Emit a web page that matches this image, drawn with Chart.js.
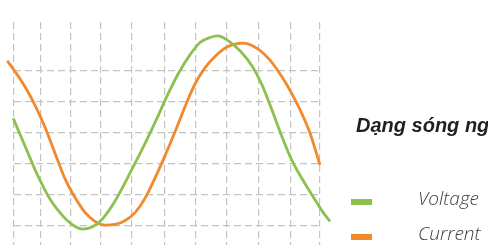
<!DOCTYPE html>
<html>
<head>
<meta charset="utf-8">
<script src="https://cdn.jsdelivr.net/npm/chart.js@4/dist/chart.umd.min.js"></script>
<style>
  html, body { margin: 0; padding: 0; background: #fff; overflow: hidden; }
  #wrap { position: relative; width: 488px; height: 245px; overflow: hidden; }
  #c { position: absolute; left: 0; top: 0; }
  .title { position: absolute; left: 356px; top: 115px; font: italic bold 20px "Liberation Sans", Arial, sans-serif; line-height: 20px; color: #231f20; white-space: nowrap; }
  .sw { position: absolute; left: 351px; width: 21px; height: 6px; }
  .lt { position: absolute; left: 418px; font: italic 300 19px "Open Sans", "Liberation Sans", sans-serif; line-height: 19px; color: #3a3a3a; white-space: nowrap; }
</style>
</head>
<body>
<div id="wrap">
  <canvas id="c" width="488" height="245"></canvas>
  <div class="title">Dạng sóng ng</div>
  <div class="sw" style="top:199px;background:#8cc152"></div>
  <div class="lt" style="top:189px">Voltage</div>
  <div class="sw" style="top:234px;background:#f08a2c"></div>
  <div class="lt" style="top:224px">Current</div>
</div>
<script>
// time axis (ms) and values (grid units)
const timeV = [-0.05,0.72,1.50,2.35,3.14,3.79,4.44,5.10,5.75,6.41,7.06,7.78,8.56,9.35,10.07,10.78,11.50,12.16,12.81,13.33,13.99,14.77,15.56,16.21,16.86,17.52,18.17,18.82,19.54,20.20,20.65];
const voltage = [0.47,-0.42,-1.32,-2.13,-2.65,-2.95,-3.10,-3.03,-2.79,-2.35,-1.79,-1.10,-0.34,0.48,1.26,1.95,2.52,2.92,3.08,3.13,2.98,2.65,2.16,1.55,0.74,-0.13,-0.89,-1.47,-2.05,-2.56,-2.85];
const timeI = [-0.44,0.07,0.72,1.37,2.03,2.68,3.33,3.99,4.64,5.29,5.95,6.60,7.25,7.91,8.56,9.22,9.87,10.52,11.18,11.83,12.48,13.14,13.92,14.97,15.88,16.73,17.50,18.15,18.80,19.35,20.00];
const current = [2.33,1.98,1.49,0.90,0.18,-0.65,-1.47,-2.08,-2.56,-2.85,-2.97,-2.95,-2.83,-2.57,-2.11,-1.45,-0.73,0.03,0.85,1.58,2.10,2.47,2.77,2.90,2.73,2.35,1.82,1.28,0.64,-0.01,-1.03];
const xGridTicks = [0,1.75,3.7,5.65,7.7,9.85,11.9,13.9,16,18.05,20];
const yGridTicks = [-3,-2,-1,0,1,2];
const xRange = [0, 20];
const yRange = [-3.613, 3.58];

const toPts = (xs, ys) => xs.map((x, i) => ({ x: x, y: ys[i] }));

new Chart(document.getElementById('c'), {
  type: 'line',
  data: {
    datasets: [
      { label: 'Voltage', data: toPts(timeV, voltage), borderColor: '#8cc152', borderWidth: 2.8, pointRadius: 0, cubicInterpolationMode: 'monotone', clip: false, fill: false },
      { label: 'Current', data: toPts(timeI, current), borderColor: '#f08a2c', borderWidth: 2.8, pointRadius: 0, cubicInterpolationMode: 'monotone', clip: false, fill: false }
    ]
  },
  options: {
    responsive: false,
    animation: false,
    layout: { padding: { left: 14, right: 168, top: 22, bottom: 0 } },
    plugins: { legend: { display: false }, tooltip: { enabled: false } },
    scales: {
      x: {
        type: 'linear',
        bounds: 'data',
        afterDataLimits: (s) => { s.min = xRange[0]; s.max = xRange[1]; },
        afterBuildTicks: (s) => { s.ticks = xGridTicks.map(v => ({ value: v })); },
        ticks: { display: false },
        grid: { color: '#c4c4c4', lineWidth: 1.2, drawTicks: false, tickLength: 0 },
        border: { display: false, dash: [7, 4] }
      },
      y: {
        min: yRange[0],
        max: yRange[1],
        afterBuildTicks: (s) => { s.ticks = yGridTicks.map(v => ({ value: v })); },
        ticks: { display: false },
        grid: { color: '#c4c4c4', lineWidth: 1.2, drawTicks: false, tickLength: 0 },
        border: { display: false, dash: [7, 4] }
      }
    }
  }
});
</script>
</body>
</html>
